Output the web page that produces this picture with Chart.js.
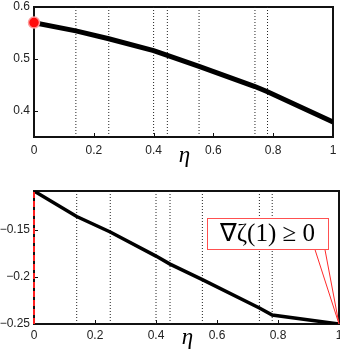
<!DOCTYPE html>
<html>
<head>
<meta charset="utf-8">
<script src="https://cdn.jsdelivr.net/npm/chart.js"></script>
<style>
  body { margin: 0; background: #fff; }
  .panel { position: absolute; left: 0; width: 340px; height: 176px; }
</style>
</head>
<body>
<div class="panel" style="top:0"><canvas id="topChart" width="340" height="176"></canvas></div>
<div class="panel" style="top:176px"><canvas id="bottomChart" width="340" height="176"></canvas></div>
<script>
// values
const eta = [0, 0.14, 0.25, 0.40, 0.446, 0.552, 0.739, 0.781, 1];
const zetaTop = [0.570, 0.554, 0.539, 0.516, 0.507, 0.486, 0.447, 0.437, 0.379];
const gradBottom = [-0.109, -0.136, -0.1525, -0.178, -0.1865, -0.203, -0.233, -0.2405, -0.25];
const dividers = [0.14, 0.25, 0.40, 0.446, 0.552, 0.739, 0.781];
const xTicks = [0, 0.2, 0.4, 0.6, 0.8, 1];
const yTicksTop = [0.4, 0.5, 0.6];
const yTicksBottom = [-0.25, -0.2, -0.15];
const topRange = [0.35, 0.6];
const bottomRange = [-0.25, -0.109];
const markerTop = [0, 0.570];
const noteText = '\u2207\u03b6(1) \u2265 0';
const notePoint = [1, -0.25];
const noteCenter = [0.765, -0.1545];
const xLabel = '\u03b7';

const tickFont = { family: '"Liberation Sans", Arial, sans-serif', size: 12 };

function dividerSets(range) {
    return dividers.map(d => ({
        data: [{ x: d, y: range[0] }, { x: d, y: range[1] }],
        borderColor: '#222',
        borderWidth: 1,
        borderDash: [1, 2],
        pointRadius: 0,
        order: 10
    }));
}

function framePlugin(labelOffset) {
    return {
        id: 'frame',
        beforeDatasetsDraw(chart) {
            const { ctx, chartArea: a, scales: { x, y } } = chart;
            ctx.save();
            ctx.strokeStyle = '#111';
            ctx.lineWidth = 2;
            ctx.strokeRect(a.left, a.top, a.right - a.left, a.bottom - a.top);
            ctx.lineWidth = 1;
            ctx.beginPath();
            x.ticks.forEach(t => {
                const px = Math.round(x.getPixelForValue(t.value)) + 0.5;
                ctx.moveTo(px, a.bottom); ctx.lineTo(px, a.bottom - 4);
            });
            y.ticks.forEach(t => {
                const py = Math.round(y.getPixelForValue(t.value)) + 0.5;
                ctx.moveTo(a.left, py); ctx.lineTo(a.left + 4, py);
            });
            ctx.stroke();
            ctx.fillStyle = '#000';
            ctx.font = 'italic 23px "Liberation Serif", serif';
            ctx.textAlign = 'center';
            ctx.textBaseline = 'alphabetic';
            ctx.fillText(xLabel, (a.left + a.right) / 2 + 1, a.bottom + labelOffset);
            ctx.restore();
        }
    };
}

const notePlugin = {
    id: 'note',
    afterDatasetsDraw(chart) {
        const { ctx, scales: { x, y } } = chart;
        ctx.save();
        ctx.font = '25px "Liberation Serif", serif';
        const w = ctx.measureText(noteText).width + 26;
        const h = 31;
        const cx = x.getPixelForValue(noteCenter[0]);
        const cy = y.getPixelForValue(noteCenter[1]);
        const left = cx - w / 2, top = cy - h / 2;
        const tipX = x.getPixelForValue(notePoint[0]);
        const tipY = y.getPixelForValue(notePoint[1]);
        // pointer
        ctx.beginPath();
        ctx.moveTo(left + w - 13, top + h);
        ctx.lineTo(tipX, tipY);
        ctx.lineTo(left + w - 3, top + h);
        ctx.closePath();
        ctx.fillStyle = '#fff';
        ctx.fill();
        ctx.strokeStyle = '#ff2a2a';
        ctx.lineWidth = 1;
        ctx.stroke();
        // box
        ctx.fillStyle = '#fff';
        ctx.fillRect(left, top, w, h);
        ctx.strokeStyle = '#ff5050';
        ctx.strokeRect(Math.round(left) + 0.5, Math.round(top) + 0.5, Math.round(w), h);
        ctx.fillStyle = '#000';
        ctx.textAlign = 'center';
        ctx.textBaseline = 'middle';
        ctx.fillText(noteText, cx, cy + 1);
        ctx.restore();
    }
};

function makeOptions(range, yTicks, topPad, axisHeight, xPad, fmt) {
    return {
        responsive: false,
        animation: false,
        layout: { padding: { top: topPad, right: 1, left: 0, bottom: 0 } },
        plugins: { legend: { display: false }, tooltip: { enabled: false } },
        scales: {
            x: {
                type: 'linear', min: 0, max: 1,
                grid: { display: false, drawTicks: false },
                border: { display: false },
                afterBuildTicks: s => { s.ticks = xTicks.map(v => ({ value: v })); },
                afterFit: s => { s.height = axisHeight; s.paddingLeft = 0; s.paddingRight = 0; },
                ticks: { font: tickFont, color: '#222', padding: xPad, maxRotation: 0, autoSkip: false,
                         callback: v => String(v) }
            },
            y: {
                min: range[0], max: range[1],
                grid: { display: false, drawTicks: false },
                border: { display: false },
                afterBuildTicks: s => { s.ticks = yTicks.map(v => ({ value: v })); },
                afterFit: s => { s.width = 34; s.paddingTop = 0; s.paddingBottom = 0; },
                ticks: { font: tickFont, color: '#222', padding: 4, callback: fmt }
            }
        }
    };
}

new Chart(document.getElementById('topChart'), {
    type: 'line',
    data: {
        datasets: [
            {
                data: [{ x: markerTop[0], y: markerTop[1] }],
                pointRadius: 5.5,
                pointBackgroundColor: '#ff0a0a',
                pointBorderColor: '#ff9a9a',
                pointBorderWidth: 1.5,
                showLine: false,
                clip: false,
                order: 0
            },
            {
                data: eta.map((e, i) => ({ x: e, y: zetaTop[i] })),
                borderColor: '#000',
                borderWidth: 5,
                pointRadius: 0,
                order: 1
            },
            ...dividerSets(topRange)
        ]
    },
    options: makeOptions(topRange, yTicksTop, 5, 39, 6, v => v.toFixed(1)),
    plugins: [framePlugin(25)]
});

new Chart(document.getElementById('bottomChart'), {
    type: 'line',
    data: {
        datasets: [
            {
                data: [{ x: 0, y: bottomRange[0] }, { x: 0, y: bottomRange[1] }],
                borderColor: '#ff2020',
                borderWidth: 2,
                borderDash: [6, 3],
                pointRadius: 0,
                clip: false,
                order: 0
            },
            {
                data: eta.map((e, i) => ({ x: e, y: gradBottom[i] })),
                borderColor: '#000',
                borderWidth: 3.5,
                pointRadius: 0,
                order: 1
            },
            ...dividerSets(bottomRange)
        ]
    },
    options: makeOptions(bottomRange, yTicksBottom, 15, 28, 4, v => '\u2212' + String(Math.abs(v))),
    plugins: [framePlugin(20), notePlugin]
});
</script>
</body>
</html>
